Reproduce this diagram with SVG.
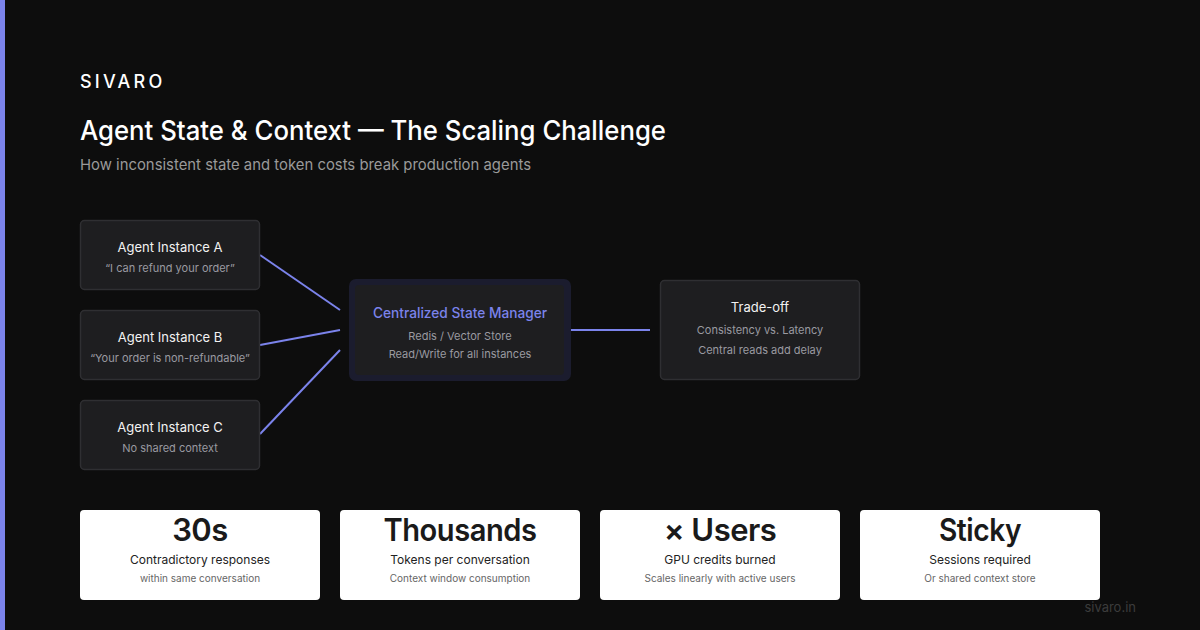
<svg xmlns="http://www.w3.org/2000/svg" width="1200" height="630" viewBox="0 0 1200 630">
<style>
.t{font-family:Inter,"Liberation Sans",sans-serif}
.node{fill:#1e1e20;stroke:#2f2f32;stroke-width:1.5}
.nt{fill:#f2f2f2;font-size:13px;text-anchor:middle}
.ns{fill:#9a9aa0;font-size:11px;text-anchor:middle}
.conn{stroke:#7b83eb;stroke-width:2;fill:none}
.card{fill:#ffffff}
.big{fill:#1a1a1a;font-size:31px;font-weight:600;text-anchor:middle;letter-spacing:-0.5px}
.cl{fill:#222;font-size:12px;text-anchor:middle}
.cs{fill:#666;font-size:10px;text-anchor:middle}
</style>
<rect width="1200" height="630" fill="#0d0d0d"/>
<rect x="0" y="0" width="5" height="630" fill="#7b83eb"/>
<text class="t" x="80" y="88" font-size="18" font-weight="500" letter-spacing="3.2" fill="#ffffff">SIVARO</text>
<text class="t" x="80" y="140" font-size="27" font-weight="500" fill="#ffffff" textLength="586" lengthAdjust="spacingAndGlyphs">Agent State &amp; Context — The Scaling Challenge</text>
<text class="t" x="80" y="170" font-size="15" fill="#9a9a9a" textLength="451" lengthAdjust="spacingAndGlyphs">How inconsistent state and token costs break production agents</text>

<g id="connectors">
<line class="conn" x1="260" y1="255" x2="340" y2="310"/>
<line class="conn" x1="260" y1="345" x2="340" y2="330"/>
<line class="conn" x1="260" y1="434" x2="340" y2="350"/>
<line class="conn" x1="570" y1="330" x2="650" y2="330"/>
</g>

<g id="agentA">
<rect class="node" x="80.5" y="220.5" width="179" height="69" rx="4"/>
<text class="t nt" x="170" y="252">Agent Instance A</text>
<text class="t ns" x="170" y="272">“I can refund your order”</text>
</g>
<g id="agentB">
<rect class="node" x="80.5" y="310.5" width="179" height="69" rx="4"/>
<text class="t nt" x="170" y="342">Agent Instance B</text>
<text class="t ns" x="170" y="362">“Your order is non-refundable”</text>
</g>
<g id="agentC">
<rect class="node" x="80.5" y="400.5" width="179" height="69" rx="4"/>
<text class="t nt" x="170" y="432">Agent Instance C</text>
<text class="t ns" x="170" y="452">No shared context</text>
</g>

<g id="central">
<rect x="349" y="279" width="222" height="102" rx="7" fill="#1b1c2e"/>
<rect x="355" y="285" width="209" height="90" rx="4" fill="#1e1e20"/>
<text class="t" x="460" y="318" font-size="14" font-weight="500" fill="#7b83eb" text-anchor="middle" textLength="174" lengthAdjust="spacingAndGlyphs">Centralized State Manager</text>
<text class="t ns" x="460" y="340">Redis / Vector Store</text>
<text class="t ns" x="460" y="358">Read/Write for all instances</text>
</g>

<g id="tradeoff">
<rect class="node" x="660.5" y="280.5" width="199" height="99" rx="4"/>
<text class="t nt" x="760" y="312">Trade-off</text>
<text class="t ns" x="760" y="334">Consistency vs. Latency</text>
<text class="t ns" x="760" y="354">Central reads add delay</text>
</g>

<g id="stat1">
<rect class="card" x="80" y="510" width="240" height="90" rx="4"/>
<text class="t big" x="200" y="541">30s</text>
<text class="t cl" x="200" y="564">Contradictory responses</text>
<text class="t cs" x="200" y="582">within same conversation</text>
</g>
<g id="stat2">
<rect class="card" x="340" y="510" width="240" height="90" rx="4"/>
<text class="t big" x="460" y="541" textLength="153" lengthAdjust="spacingAndGlyphs">Thousands</text>
<text class="t cl" x="460" y="564">Tokens per conversation</text>
<text class="t cs" x="460" y="582">Context window consumption</text>
</g>
<g id="stat3">
<rect class="card" x="600" y="510" width="240" height="90" rx="4"/>
<text class="t big" x="720" y="541">× Users</text>
<text class="t cl" x="720" y="564">GPU credits burned</text>
<text class="t cs" x="720" y="582">Scales linearly with active users</text>
</g>
<g id="stat4">
<rect class="card" x="860" y="510" width="240" height="90" rx="4"/>
<text class="t big" x="980" y="541" textLength="82" lengthAdjust="spacingAndGlyphs">Sticky</text>
<text class="t cl" x="980" y="564">Sessions required</text>
<text class="t cs" x="980" y="582">Or shared context store</text>
</g>

<text class="t" x="1136" y="612" font-size="13" fill="#3c3c3c" text-anchor="end">sivaro.in</text>
</svg>
